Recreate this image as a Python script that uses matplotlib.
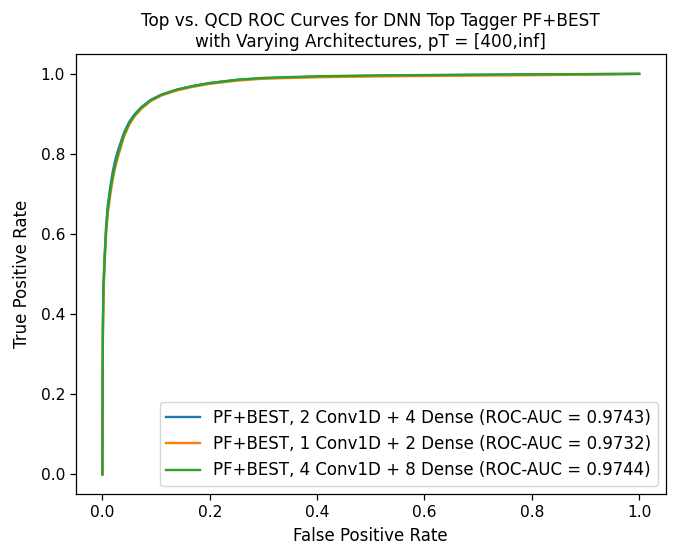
import matplotlib
matplotlib.use("Agg")
import matplotlib.pyplot as plt

fpr_blue = [0, 0.0005, 0.001, 0.002, 0.004, 0.007, 0.010, 0.015, 0.020, 0.025, 0.030, 0.040, 0.050,
            0.060, 0.072, 0.090, 0.110, 0.140, 0.170, 0.200, 0.250, 0.300, 0.400, 0.500, 0.600,
            0.700, 0.800, 0.900, 1.0]
tpr_blue = [0, 0.22, 0.37, 0.47, 0.54, 0.62, 0.67, 0.72, 0.76, 0.79, 0.812, 0.852, 0.880,
            0.899, 0.916, 0.935, 0.948, 0.961, 0.970, 0.977, 0.985, 0.989, 0.993, 0.995, 0.9965,
            0.9975, 0.9985, 0.9993, 1.0]

fpr_orange = [0, 0.0005, 0.001, 0.002, 0.004, 0.007, 0.010, 0.015, 0.020, 0.025, 0.030, 0.040, 0.050,
              0.060, 0.072, 0.090, 0.110, 0.140, 0.170, 0.200, 0.250, 0.300, 0.400, 0.500, 0.600,
              0.700, 0.800, 0.900, 1.0]
tpr_orange = [0, 0.20, 0.345, 0.45, 0.52, 0.60, 0.65, 0.70, 0.742, 0.772, 0.797, 0.842, 0.873,
              0.894, 0.912, 0.932, 0.946, 0.959, 0.968, 0.975, 0.983, 0.988, 0.9915, 0.9935, 0.9948,
              0.9958, 0.9966, 0.998, 1.0]

fpr_green = [0, 0.0005, 0.001, 0.002, 0.004, 0.007, 0.010, 0.015, 0.020, 0.025, 0.030, 0.040, 0.050,
             0.060, 0.072, 0.090, 0.110, 0.140, 0.170, 0.200, 0.250, 0.300, 0.400, 0.500, 0.600,
             0.700, 0.800, 0.900, 1.0]
tpr_green = [0, 0.21, 0.36, 0.46, 0.53, 0.61, 0.66, 0.71, 0.75, 0.78, 0.805, 0.848, 0.877,
             0.897, 0.915, 0.934, 0.948, 0.961, 0.970, 0.977, 0.985, 0.990, 0.994, 0.996, 0.997,
             0.998, 0.9988, 0.9994, 1.0]

labels = [
    "PF+BEST, 2 Conv1D + 4 Dense (ROC-AUC = 0.9743)",
    "PF+BEST, 1 Conv1D + 2 Dense (ROC-AUC = 0.9732)",
    "PF+BEST, 4 Conv1D + 8 Dense (ROC-AUC = 0.9744)",
]

fig = plt.figure(figsize=(6.76, 5.5), dpi=100)
ax = fig.add_axes([0.1117, 0.1011, 0.8735, 0.801])
lw = 1.7
ax.plot(fpr_blue, tpr_blue, color="#1f77b4", lw=lw, label=labels[0])
ax.plot(fpr_orange, tpr_orange, color="#ff7f0e", lw=lw, label=labels[1])
ax.plot(fpr_green, tpr_green, color="#2ca02c", lw=lw, label=labels[2])
ax.set_xlabel("False Positive Rate", fontsize=12, labelpad=5)
ax.set_ylabel("True Positive Rate", fontsize=12, labelpad=7)
ax.set_title("Top vs. QCD ROC Curves for DNN Top Tagger PF+BEST\nwith Varying Architectures, pT = [400,inf]",
             fontsize=12.2, pad=5)
ax.tick_params(labelsize=11.2, length=4, width=0.9)
for s in ax.spines.values():
    s.set_linewidth(0.9)
ax.legend(loc="lower right", fontsize=12)
fig.savefig("out.png", dpi=100)
